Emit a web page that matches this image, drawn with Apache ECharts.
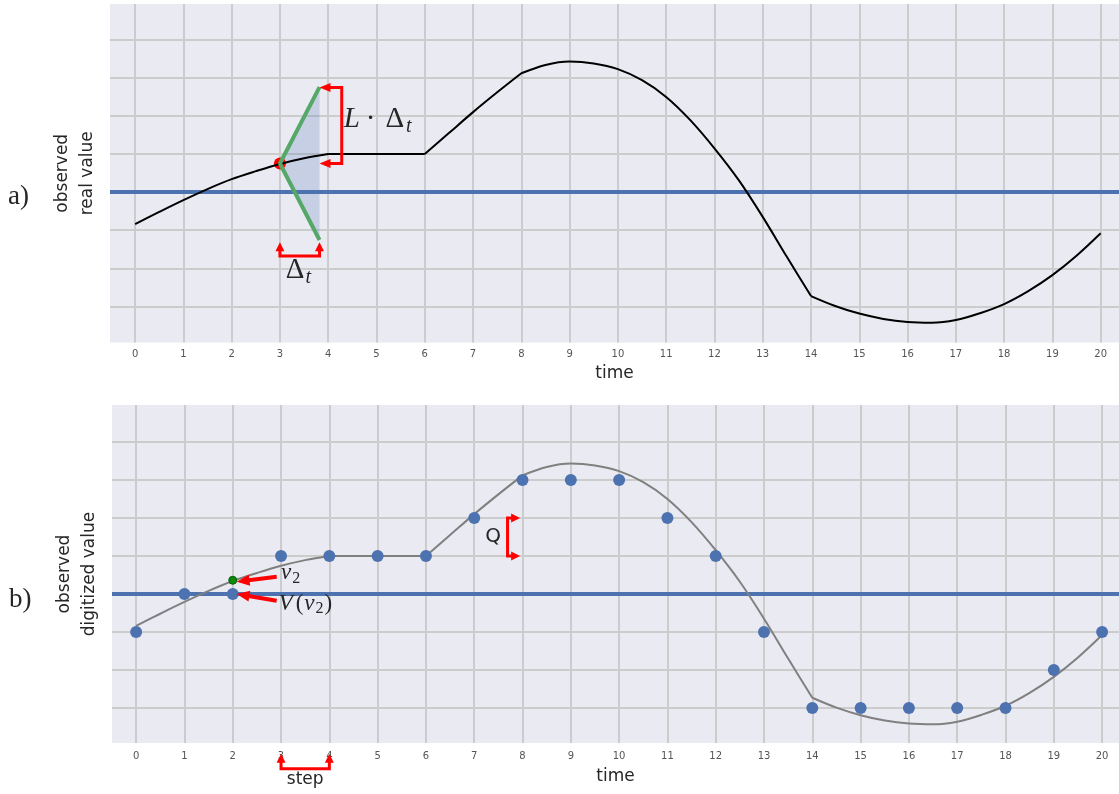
<!DOCTYPE html>
<html><head><meta charset="utf-8">
<script src="https://cdn.jsdelivr.net/npm/echarts@6/dist/echarts.min.js"></script>
<style>html,body{margin:0;padding:0;background:#fff}#c{width:1119px;height:794px}</style>
</head><body><div id="c"></div><script>
// ---------------- data ----------------
const timeTicks = [0,1,2,3,4,5,6,7,8,9,10,11,12,13,14,15,16,17,18,19,20];
const levelLines = [-3,-2,-1,0,1,2,3,4];
// observed real value, read at half-step times
const curveT = [0,0.5,1,1.5,2,2.5,3,3.5,4,4.5,5,5.5,6,6.5,7,7.5,8,8.5,9,9.5,10,10.5,11,11.5,12,12.5,13,13.5,14,14.5,15,15.5,16,16.5,17,17.5,18,18.5,19,19.5,20];
const curveV = [-0.84,-0.52,-0.21,0.08,0.34,0.55,0.74,0.89,1.0,1.0,1.0,1.0,1.0,1.55,2.1,2.62,3.12,3.34,3.43,3.38,3.23,2.94,2.50,1.89,1.15,0.32,-0.65,-1.70,-2.73,-2.99,-3.19,-3.33,-3.41,-3.43,-3.36,-3.18,-2.94,-2.60,-2.18,-1.67,-1.08];
const curveKinks = [4,6,8,14];
const digitizedV = [-1,0,0,1,1,1,1,2,3,3,3,2,1,-1,-3,-3,-3,-3,-3,-2,-1];
const threshold = 0;
// panel a) local bound construction
const sampleT = 3, sampleV = 0.75, deltaT = 0.82, slopeL = 2.45;
// panel b) highlighted sample
const v2T = 2, v2V = 0.36;

// axis extents
const xMinA = -0.52, xMaxA = 20.38;
const xMinB = -0.5, xMaxB = 20.35;
const yMinA = -3.95, yMaxA = 4.94;
const yMinB = -3.92, yMaxB = 4.97;

// annotation geometry (data units)
const annLBracket = [[3.82,2.75],[4.28,2.75],[4.28,0.75],[3.82,0.75]];
const annDtBracket = [[3,-1.32],[3,-1.68],[3.82,-1.68],[3.82,-1.32]];
const annQBracket = [[7.95,2],[7.69,2],[7.69,1],[7.95,1]];
const annStepBracket = [[3,-4.2],[3,-4.6],[4,-4.6],[4,-4.2]];
const annV2Arrow = [[2.91,0.45],[2.08,0.32]];
const annVV2Arrow = [[2.91,-0.18],[2.08,0.0]];
const lblLdt = [4.32,1.92], lblDt = [3.12,-2.05], lblV2 = [3.0,0.54], lblVV2 = [2.95,-0.26], lblQ = [7.39,1.5], lblStep = [3.5,-4.89];

// ---------------- helpers ----------------
function curveData(){
  const out=[];
  curveT.forEach((t,i)=>{
    out.push([t,curveV[i]]);
    if(curveKinks.indexOf(t)>=0 && i>0 && i<curveT.length-1){ out.push([t,'-']); out.push([t,curveV[i]]); }
  });
  return out;
}
const shadeTri = [[sampleT,sampleV],[sampleT+deltaT,sampleV+slopeL*deltaT],[sampleT+deltaT,sampleV-slopeL*deltaT]];
const greenLines = [[sampleT+deltaT,sampleV+slopeL*deltaT],[sampleT,sampleV],[sampleT+deltaT,sampleV-slopeL*deltaT]];

const RED='#ff0000', INK='#262626', SERIF='"Liberation Serif", serif', SANS='"DejaVu Sans", sans-serif';
const mctx=document.createElement('canvas').getContext('2d');
function tw(p){ mctx.font=(p.italic?'italic ':'')+p.size+'px '+p.family; return mctx.measureText(p.text).width; }

function head(tip,from,len,hw){
  const dx=tip[0]-from[0], dy=tip[1]-from[1]; const d=Math.hypot(dx,dy)||1; const ux=dx/d, uy=dy/d;
  const bx=tip[0]-ux*len, by=tip[1]-uy*len;
  return {poly:[tip,[bx-uy*hw,by+ux*hw],[bx+uy*hw,by-ux*hw]], base:[bx+ux*1,by+uy*1]};
}
function annSeries(gi, anns){
  return {type:'custom', xAxisIndex:gi, yAxisIndex:gi, clip:false, silent:true, z:6,
    data: anns.map(a=>a.pts[0]),
    renderItem:(params,api)=>{
      const a=anns[params.dataIndex];
      const px=a.pts.map(p=>api.coord(p)); const line=px.slice(); const ch=[];
      const n=px.length;
      if(a.start){ const h=head(px[0],px[1],a.len,a.hw); line[0]=h.base; ch.push({type:'polygon',shape:{points:h.poly},style:{fill:RED}}); }
      if(a.end){ const h=head(px[n-1],px[n-2],a.len,a.hw); line[n-1]=h.base; ch.push({type:'polygon',shape:{points:h.poly},style:{fill:RED}}); }
      ch.unshift({type:'polyline',shape:{points:line},style:{stroke:RED,lineWidth:a.w,fill:null,lineJoin:'miter',lineCap:'butt'}});
      return {type:'group',children:ch};
    }};
}
function textSeries(gi, labels){
  return {type:'custom', xAxisIndex:gi, yAxisIndex:gi, clip:false, silent:true, z:7,
    data: labels.map(l=>l.at),
    renderItem:(params,api)=>{
      const l=labels[params.dataIndex]; const p0=api.coord(l.at); let cx=p0[0]; const ch=[];
      l.pieces.forEach(p=>{
        cx+=(p.gap||0);
        ch.push({type:'text',x:cx,y:p0[1]+(p.dy||0),style:{text:p.text,fontSize:p.size,fontFamily:p.family,fontStyle:p.italic?'italic':'normal',fill:INK,align:l.align||'left',verticalAlign:'middle'}});
        cx+=tw(p);
      });
      return {type:'group',children:ch};
    }};
}

const annsA=[
  {pts:annLBracket,start:true,end:true,w:3,len:11,hw:4.5},
  {pts:annDtBracket,start:true,end:true,w:3,len:9,hw:4.5}
];
const annsB=[
  {pts:annQBracket,start:true,end:true,w:3,len:9,hw:4.5},
  {pts:annStepBracket,start:true,end:true,w:3,len:9,hw:4.5},
  {pts:annV2Arrow,start:false,end:true,w:4,len:13,hw:5.5},
  {pts:annVV2Arrow,start:false,end:true,w:4,len:13,hw:5.5}
];
const labelsA=[
  {at:lblLdt,pieces:[{text:'L',italic:true,size:29,family:SERIF},{text:'·',size:29,family:SERIF,gap:6},{text:'Δ',size:29,family:SERIF,gap:10},{text:'t',italic:true,size:20,family:SERIF,gap:2,dy:8}]},
  {at:lblDt,pieces:[{text:'Δ',size:29,family:SERIF},{text:'t',italic:true,size:20,family:SERIF,gap:1,dy:8}]}
];
const labelsB=[
  {at:lblV2,pieces:[{text:'v',italic:true,size:23,family:SERIF},{text:'2',size:16,family:SERIF,gap:1,dy:5}]},
  {at:lblVV2,pieces:[{text:'V',italic:true,size:23,family:SERIF},{text:'(',size:23,family:SERIF,gap:3},{text:'v',italic:true,size:23,family:SERIF,gap:1},{text:'2',size:16,family:SERIF,gap:1,dy:5},{text:')',size:23,family:SERIF,gap:1}]},
  {at:lblQ,align:'center',pieces:[{text:'Q',size:20,family:SANS}]},
  {at:lblStep,align:'center',pieces:[{text:'step',size:17,family:SANS}]}
];

function xAxis(gi,min,max,gap,margin){
  return {gridIndex:gi,type:'value',min:min,max:max,
    axisLine:{show:false},axisTick:{show:false,customValues:timeTicks},
    axisLabel:{customValues:timeTicks,color:'#555',fontSize:10,fontFamily:SANS,margin:margin},
    splitLine:{show:true,lineStyle:{color:'#cccccc',width:2}},
    name:'time',nameLocation:'middle',nameGap:gap,nameTextStyle:{fontSize:17,color:INK,fontFamily:SANS}};
}
function yAxis(gi,min,max,name){
  return {gridIndex:gi,type:'value',min:min,max:max,
    axisLine:{show:false},axisTick:{show:false,customValues:levelLines},axisLabel:{show:false},
    splitLine:{show:true,lineStyle:{color:'#cccccc',width:2}},
    name:name,nameLocation:'middle',nameRotate:90,nameGap:10,
    nameTextStyle:{fontSize:17,color:INK,fontFamily:SANS,lineHeight:25}};
}
function thresholdSeries(gi){
  return {type:'line',xAxisIndex:gi,yAxisIndex:gi,data:[],z:2,silent:true,
    markLine:{silent:true,symbol:'none',z:2,label:{show:false},lineStyle:{color:'#4C72B0',width:4,type:'solid'},data:[{yAxis:threshold}]}};
}

const chart=echarts.init(document.getElementById('c'),null,{renderer:'canvas'});
chart.setOption({
  animation:false,
  backgroundColor:'#ffffff',
  grid:[
    {left:110,top:4,right:0,height:338.5,show:true,backgroundColor:'#EAEAF2',borderWidth:0},
    {left:112,top:405,right:0,height:338,show:true,backgroundColor:'#EAEAF2',borderWidth:0}
  ],
  xAxis:[xAxis(0,xMinA,xMaxA,23,7),xAxis(1,xMinB,xMaxB,25,8)],
  yAxis:[yAxis(0,yMinA,yMaxA,'observed\nreal value'),yAxis(1,yMinB,yMaxB,'observed\ndigitized value')],
  graphic:[
    {type:'text',left:8,top:183,style:{text:'a)',font:'27px "Liberation Serif"',fill:INK}},
    {type:'text',left:9,top:586,style:{text:'b)',font:'27px "Liberation Serif"',fill:INK}}
  ],
  series:[
    {type:'custom',xAxisIndex:0,yAxisIndex:0,z:1,silent:true,data:[shadeTri[0]],
     renderItem:(p,api)=>({type:'polygon',shape:{points:shadeTri.map(q=>api.coord(q))},style:{fill:'rgba(76,114,176,0.22)'}})},
    thresholdSeries(0),
    {type:'scatter',xAxisIndex:0,yAxisIndex:0,z:3,silent:true,data:[[sampleT,sampleV]],symbolSize:12,itemStyle:{color:RED,opacity:1}},
    {type:'line',xAxisIndex:0,yAxisIndex:0,z:4,silent:true,data:curveData(),smooth:0.35,showSymbol:false,connectNulls:false,lineStyle:{color:'#000',width:2}},
    {type:'line',xAxisIndex:0,yAxisIndex:0,z:5,silent:true,data:greenLines,showSymbol:false,lineStyle:{color:'#55A868',width:4}},
    annSeries(0,annsA), textSeries(0,labelsA),

    thresholdSeries(1),
    {type:'line',xAxisIndex:1,yAxisIndex:1,z:3,silent:true,data:curveData(),smooth:0.35,showSymbol:false,connectNulls:false,lineStyle:{color:'#808080',width:2}},
    {type:'scatter',xAxisIndex:1,yAxisIndex:1,z:4,silent:true,data:timeTicks.map((t,i)=>[t,digitizedV[i]]),symbolSize:12,itemStyle:{color:'#4C72B0',opacity:1}},
    {type:'scatter',xAxisIndex:1,yAxisIndex:1,z:5,silent:true,data:[[v2T,v2V]],symbolSize:8,itemStyle:{color:'#0a8a0a',borderColor:'#066006',borderWidth:1,opacity:1}},
    annSeries(1,annsB), textSeries(1,labelsB)
  ]
});
</script></body></html>
